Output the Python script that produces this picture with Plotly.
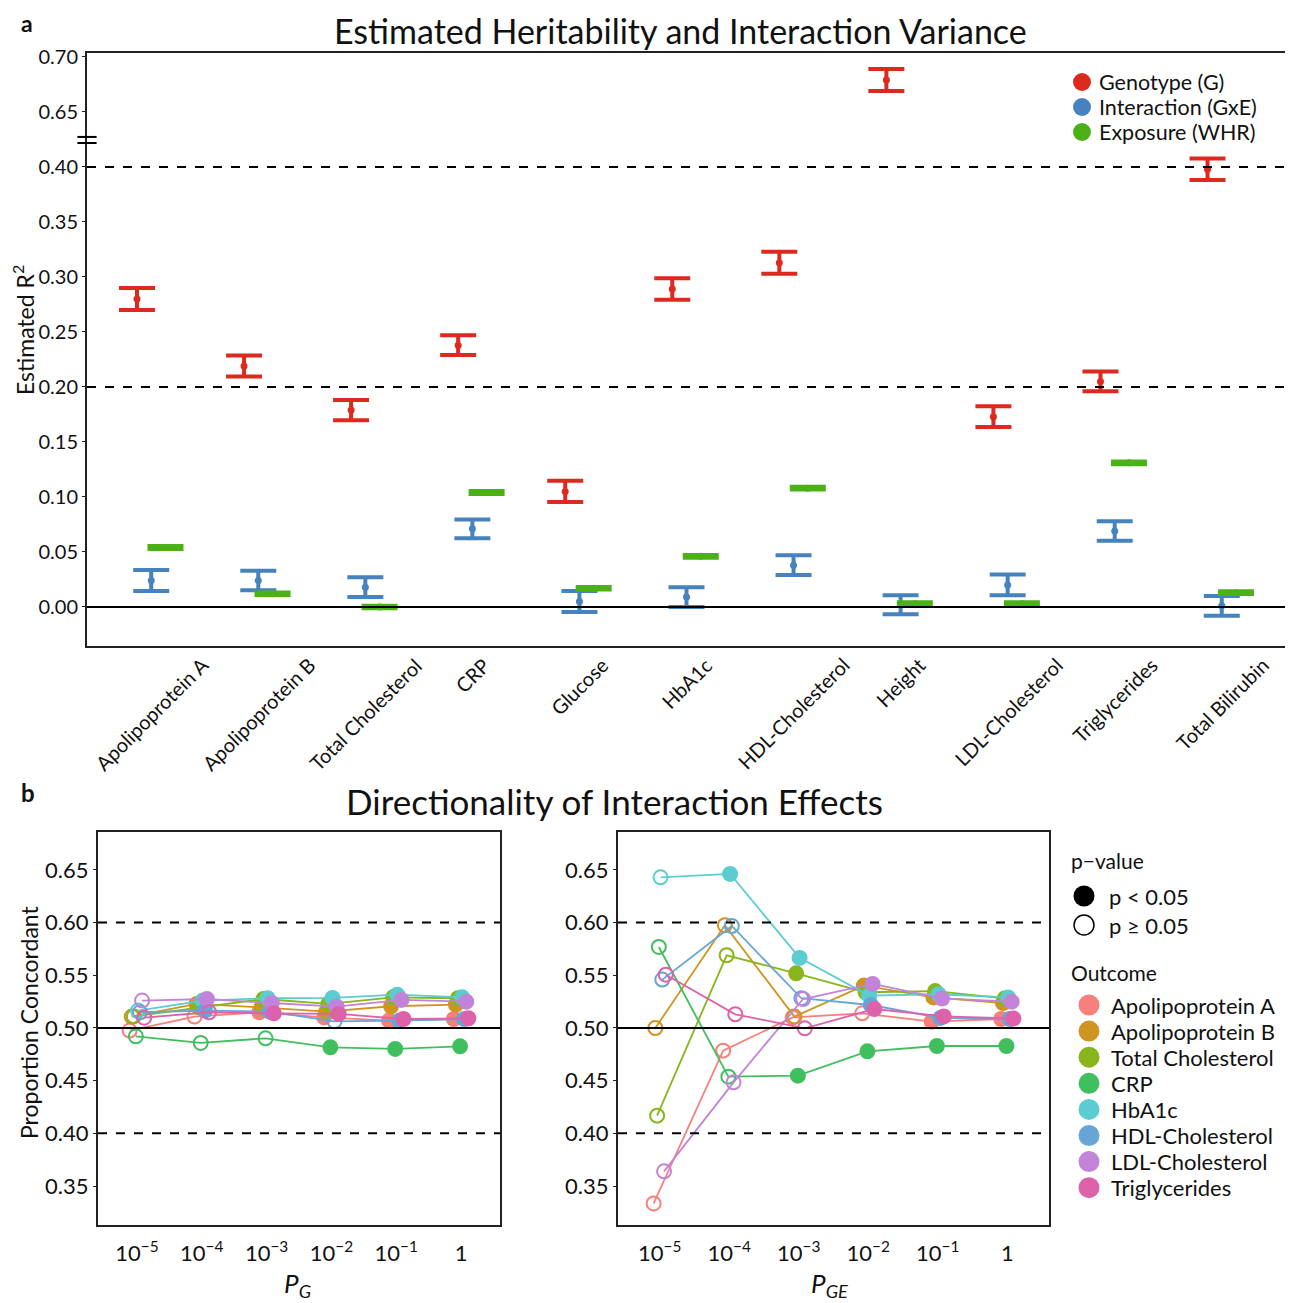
import plotly.graph_objects as go

W, H = 1293, 1303
OFF = 8                      # browser body margin
FW, FH = W - OFF, H - OFF    # figure size
FONT = "Lato"

# ---------------- Panel a data ----------------
categories = ["Apolipoprotein A", "Apolipoprotein B", "Total Cholesterol", "CRP", "Glucose",
              "HbA1c", "HDL-Cholesterol", "Height", "LDL-Cholesterol", "Triglycerides",
              "Total Bilirubin"]
g_est = [0.280, 0.219, 0.179, 0.238, 0.105, 0.289, 0.313, 0.679, 0.173, 0.205, 0.398]
g_se = [0.010, 0.0095, 0.0092, 0.009, 0.0097, 0.0098, 0.010, 0.010, 0.0095, 0.009, 0.0098]
gxe_est = [0.024, 0.024, 0.018, 0.071, 0.005, 0.009, 0.038, 0.002, 0.020, 0.069, 0.001]
gxe_se = [0.0095, 0.0088, 0.009, 0.0085, 0.0095, 0.009, 0.009, 0.0087, 0.0094, 0.0088, 0.009]
e_est = [0.054, 0.012, 0.000, 0.104, 0.017, 0.046, 0.108, 0.003, 0.003, 0.131, 0.013]
e_se = [0.0013, 0.0012, 0.0012, 0.0013, 0.0012, 0.0012, 0.0013, 0.0012, 0.0012, 0.0013, 0.0012]
a_tick_vals = [0.00, 0.05, 0.10, 0.15, 0.20, 0.25, 0.30, 0.35, 0.40, 0.65, 0.70]
a_tick_text = ["0.00", "0.05", "0.10", "0.15", "0.20", "0.25", "0.30", "0.35", "0.40", "0.65", "0.70"]
a_series = ["Genotype (G)", "Interaction (GxE)", "Exposure (WHR)"]
a_colors = ["#DD2A1F", "#4682BE", "#4CB117"]

# ---------------- Panel b data ----------------
outcomes = ["Apolipoprotein A", "Apolipoprotein B", "Total Cholesterol", "CRP", "HbA1c",
            "HDL-Cholesterol", "LDL-Cholesterol", "Triglycerides"]
outcome_colors = ["#F8807A", "#CF9520", "#87B51B", "#40BF5E", "#5BCDD0", "#65A6D6", "#C284D9", "#DD62AA"]
p_thresholds = [1e-5, 1e-4, 1e-3, 1e-2, 1e-1, 1]
p_tick_text = ["10<sup>−5</sup>", "10<sup>−4</sup>", "10<sup>−3</sup>", "10<sup>−2</sup>", "10<sup>−1</sup>", "1"]
b_tick_vals = [0.35, 0.40, 0.45, 0.50, 0.55, 0.60, 0.65]

pg_conc = [
    [0.4975, 0.5108, 0.5149, 0.5101, 0.5070, 0.5085],
    [0.5108, 0.5228, 0.5196, 0.5155, 0.5206, 0.5222],
    [0.5110, 0.5196, 0.5275, 0.5228, 0.5291, 0.5282],
    [0.4921, 0.4858, 0.4902, 0.4816, 0.4801, 0.4826],
    [0.5165, 0.5260, 0.5282, 0.5285, 0.5316, 0.5291],
    [0.5149, 0.5165, 0.5155, 0.5063, 0.5070, 0.5085],
    [0.5260, 0.5275, 0.5237, 0.5203, 0.5266, 0.5250],
    [0.5098, 0.5149, 0.5139, 0.5133, 0.5085, 0.5092],
]
pg_sig = [
    [0, 0, 1, 1, 1, 1],
    [0, 1, 1, 1, 1, 1],
    [0, 1, 1, 1, 1, 1],
    [0, 0, 0, 1, 1, 1],
    [0, 1, 1, 1, 1, 1],
    [0, 1, 1, 0, 1, 1],
    [0, 1, 1, 1, 1, 1],
    [0, 0, 1, 1, 1, 1],
]
pge_conc = [
    [0.3335, 0.4785, 0.5100, 0.5139, 0.5060, 0.5085],
    [0.5000, 0.5975, 0.5108, 0.5402, 0.5290, 0.5237],
    [0.4168, 0.5690, 0.5519, 0.5339, 0.5350, 0.5280],
    [0.5769, 0.4538, 0.4547, 0.4778, 0.4829, 0.4829],
    [0.6430, 0.6462, 0.5665, 0.5307, 0.5320, 0.5290],
    [0.5459, 0.5968, 0.5282, 0.5218, 0.5095, 0.5085],
    [0.3639, 0.4484, 0.5275, 0.5418, 0.5280, 0.5250],
    [0.5506, 0.5130, 0.4997, 0.5180, 0.5110, 0.5090],
]
pge_sig = [
    [0, 0, 0, 0, 1, 1],
    [0, 0, 0, 1, 1, 1],
    [0, 0, 1, 1, 1, 1],
    [0, 0, 1, 1, 1, 1],
    [0, 1, 1, 1, 1, 1],
    [0, 0, 0, 1, 1, 1],
    [0, 0, 0, 1, 1, 1],
    [0, 0, 0, 1, 1, 1],
]

# ---------------- helpers ----------------
def px_x(p):
    return (p - OFF) / FW

def px_y(p):
    return 1 - (p - OFF) / FH

def brk(v):
    # broken axis: values above the break are shifted down by 0.20
    return v - 0.20 if v > 0.5 else v

fig = go.Figure()

# ---------------- Panel a traces ----------------
series_a = [
    (g_est, g_se, a_colors[0], -0.133),
    (gxe_est, gxe_se, a_colors[1], 0.0),
    (e_est, e_se, a_colors[2], 0.133),
]
for est, se, col, off in series_a:
    fig.add_trace(go.Scatter(
        x=[i + off for i in range(len(categories))],
        y=[brk(v) for v in est],
        mode="markers",
        marker=dict(size=7, color=col),
        error_y=dict(type="data", array=se, visible=True, color=col, thickness=4, width=18),
        showlegend=False, xaxis="x", yaxis="y", hoverinfo="skip",
    ))

# ---------------- Panel b traces ----------------
def add_panel(conc, sig, xa, ya, dodge):
    n = len(conc)
    for k in range(n):
        off = (k - (n - 1) / 2) * dodge
        xs = [p * 10 ** off for p in p_thresholds]
        syms = ["circle" if s else "circle-open" for s in sig[k]]
        fig.add_trace(go.Scatter(
            x=xs, y=conc[k], mode="lines+markers",
            line=dict(color=outcome_colors[k], width=1.8),
            marker=dict(size=14, color=outcome_colors[k], symbol=syms,
                        line=dict(color=outcome_colors[k], width=2)),
            showlegend=False, xaxis=xa, yaxis=ya, hoverinfo="skip",
        ))

add_panel(pg_conc, pg_sig, "x2", "y2", 0.032)
add_panel(pge_conc, pge_sig, "x3", "y3", 0.025)

# ---------------- Layout ----------------
axis_common = dict(showline=True, mirror=True, linecolor="#222", linewidth=2,
                   showgrid=False, zeroline=False, automargin=False)

fig.update_layout(
    width=FW, height=FH, template="none",
    margin=dict(l=0, r=0, t=0, b=0),
    paper_bgcolor="white", plot_bgcolor="white",
    font=dict(family=FONT, color="#111"),
    showlegend=False,
    xaxis=dict(**axis_common, domain=[px_x(87), px_x(1286)], anchor="y",
               range=[-0.6, 10.6], showticklabels=False, ticks=""),
    yaxis=dict(**axis_common, domain=[px_y(646), px_y(53)], anchor="x",
               range=[-0.0355, 0.5036], tickvals=[brk(v) for v in a_tick_vals], ticktext=a_tick_text,
               ticks="outside", ticklen=3, tickcolor="#222",
               tickfont=dict(family=FONT, size=20, color="#111")),
    xaxis2=dict(**axis_common, domain=[px_x(98), px_x(500)], anchor="y2", type="log",
                range=[-5.6, 0.6], tickvals=p_thresholds, ticktext=p_tick_text, ticks="",
                ticklabelstandoff=8,
                tickfont=dict(family=FONT, size=22, color="#111")),
    yaxis2=dict(**axis_common, domain=[px_y(1225), px_y(832)], anchor="x2",
                range=[0.313, 0.686], tickvals=b_tick_vals, tickformat=".2f",
                ticks="outside", ticklen=3, tickcolor="#222",
                tickfont=dict(family=FONT, size=22, color="#111")),
    xaxis3=dict(**axis_common, domain=[px_x(618), px_x(1049)], anchor="y3", type="log",
                range=[-5.6, 0.6], tickvals=p_thresholds, ticktext=p_tick_text, ticks="",
                ticklabelstandoff=8,
                tickfont=dict(family=FONT, size=22, color="#111")),
    yaxis3=dict(**axis_common, domain=[px_y(1225), px_y(832)], anchor="x3",
                range=[0.313, 0.686], tickvals=b_tick_vals, tickformat=".2f",
                ticks="outside", ticklen=3, tickcolor="#222",
                tickfont=dict(family=FONT, size=22, color="#111")),
)

# reference lines
shapes = []
for yv in [0.20, 0.40]:
    shapes.append(dict(type="line", xref="x domain", yref="y", x0=0, x1=1, y0=yv, y1=yv,
                       line=dict(color="black", width=2, dash="dash")))
shapes.append(dict(type="line", xref="x domain", yref="y", x0=0, x1=1, y0=0, y1=0,
                   line=dict(color="black", width=2)))
# axis break marks
for yv in [0.4273, 0.4218]:
    shapes.append(dict(type="line", xref="x domain", yref="y", x0=-0.008, x1=0.008, y0=yv, y1=yv,
                       line=dict(color="black", width=2)))
for ax in ["2", "3"]:
    for yv in [0.40, 0.60]:
        shapes.append(dict(type="line", xref=f"x{ax} domain", yref=f"y{ax}", x0=0, x1=1, y0=yv, y1=yv,
                           line=dict(color="black", width=2, dash="dash")))
    shapes.append(dict(type="line", xref=f"x{ax} domain", yref=f"y{ax}", x0=0, x1=1, y0=0.5, y1=0.5,
                       line=dict(color="black", width=2)))

def legend_dot(cx, cy, r, fill, line_col=None, lw=0):
    return dict(type="circle", xref="paper", yref="paper",
                xsizemode="pixel", ysizemode="pixel",
                xanchor=px_x(cx), yanchor=px_y(cy), x0=-r, x1=r, y0=-r, y1=r,
                fillcolor=fill, line=dict(color=line_col or fill, width=lw))

annotations = []

def text(t, x, y, size, xanchor="left", angle=0, bold=False, **kw):
    annotations.append(dict(text=f"<b>{t}</b>" if bold else t, x=px_x(x), y=px_y(y),
                            xref="paper", yref="paper", showarrow=False, textangle=angle,
                            font=dict(family=FONT, size=size, color="#111"),
                            xanchor=xanchor, yanchor="middle", borderpad=0, **kw))

# top legend
for k, name in enumerate(a_series):
    cy = 82 + 25 * k
    shapes.append(legend_dot(1082, cy, 9, a_colors[k]))
    text(name, 1098, cy, 21.5)

# p-value legend
text("p−value", 1070, 860, 21)
shapes.append(legend_dot(1084, 896, 10.5, "black"))
text("p < 0.05", 1108, 896, 22)
shapes.append(legend_dot(1084, 925, 10, "white", "black", 1.5))
text("p ≥ 0.05", 1108, 925, 22)

# outcome legend
text("Outcome", 1070, 972, 21)
for k, name in enumerate(outcomes):
    cy = 1005 + 26.1 * k
    shapes.append(legend_dot(1089, cy, 10.5, outcome_colors[k]))
    text(name, 1110, cy, 22)

fig.update_layout(shapes=shapes)

# category labels (rotated, centred under each category)
for i, c in enumerate(categories):
    annotations.append(dict(text=c, x=i, y=px_y(650), xref="x", yref="paper", showarrow=False,
                            textangle=-45, xanchor="center", yanchor="top",
                            font=dict(family=FONT, size=20, color="#111")))

text("a", 20, 23, 23, bold=True)
text("b", 20, 792, 24, bold=True)
text("Estimated Heritability and Interaction Variance", 680, 30, 34, xanchor="center")
text("Directionality of Interaction Effects", 614, 801, 35, xanchor="center")
text("Estimated R<sup>2</sup>", 23, 330, 23, xanchor="center", angle=-90)
text("Proportion Concordant", 29, 1022, 23, xanchor="center", angle=-90)
text("<i>P</i><sub><i>G</i></sub>", 297, 1284, 26, xanchor="center")
text("<i>P</i><sub><i>GE</i></sub>", 830, 1284, 26, xanchor="center")

fig.update_layout(annotations=annotations)

fig.write_html("out.html")
